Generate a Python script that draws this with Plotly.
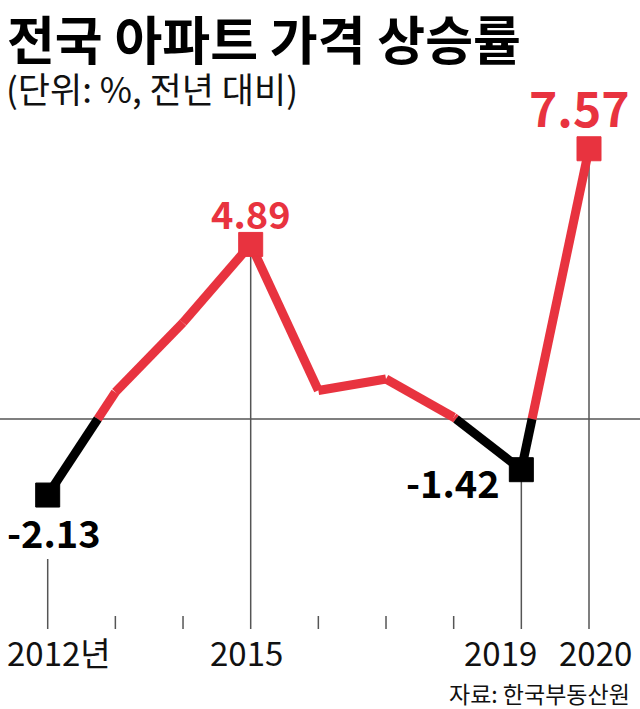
import plotly.graph_objects as go

# ---- data ----
years = [2012, 2013, 2014, 2015, 2016, 2017, 2018, 2019, 2020]
values = [-2.13, 0.75, 2.70, 4.89, 0.80, 1.12, 0.05, -1.42, 7.57]
labeled_years = [2012, 2015, 2019, 2020]
tick_labels = {2012: "2012년", 2015: "2015", 2019: "2019", 2020: "2020"}

title = "전국 아파트 가격 상승률"
subtitle = "(단위: %, 전년 대비)"
source = "자료: 한국부동산원"

RED = "#E8333F"
BLACK = "#000000"
GRAY = "#555555"
KR = "Noto Sans CJK KR"

W, H = 640, 709
ZERO_PX = 419
PX_PER_UNIT = 35.7
X0_PX, X1_PX = 47.7, 589.0
px_per_year = (X1_PX - X0_PX) / (years[-1] - years[0])
xr = [years[0] - X0_PX / px_per_year, years[-1] + (W - X1_PX) / px_per_year]
yr = [-(H - ZERO_PX) / PX_PER_UNIT, ZERO_PX / PX_PER_UNIT]


def px_to_y(py):
    return (ZERO_PX - py) / PX_PER_UNIT


# ---- split line into positive (red) / negative (black) pieces ----
red_x, red_y, blk_x, blk_y = [], [], [], []
for i in range(len(years) - 1):
    x0, y0, x1, y1 = years[i], values[i], years[i + 1], values[i + 1]
    if (y0 >= 0) == (y1 >= 0):
        tx, ty = (red_x, red_y) if y0 >= 0 else (blk_x, blk_y)
        tx += [x0, x1, None]
        ty += [y0, y1, None]
    else:
        xc = x0 + (x1 - x0) * (0 - y0) / (y1 - y0)
        a = (red_x, red_y) if y0 >= 0 else (blk_x, blk_y)
        b = (red_x, red_y) if y1 >= 0 else (blk_x, blk_y)
        a[0].extend([x0, xc, None]); a[1].extend([y0, 0, None])
        b[0].extend([xc, x1, None]); b[1].extend([0, y1, None])

fig = go.Figure()
fig.add_trace(go.Scatter(x=red_x, y=red_y, mode="lines",
                         line=dict(color=RED, width=9), hoverinfo="skip"))
fig.add_trace(go.Scatter(x=blk_x, y=blk_y, mode="lines",
                         line=dict(color=BLACK, width=9), hoverinfo="skip"))

mx = [y for y in labeled_years]
my = [values[years.index(y)] for y in labeled_years]
mc = [RED if v >= 0 else BLACK for v in my]
fig.add_trace(go.Scatter(x=mx, y=my, mode="markers",
                         marker=dict(symbol="square", size=24, color=mc,
                                     line=dict(color=mc, width=1)),
                         hoverinfo="skip"))

# ---- shapes: zero line, vertical guides, ticks ----
shapes = [dict(type="line", xref="paper", yref="y", x0=0, x1=1, y0=0, y1=0,
               line=dict(color=GRAY, width=1.5), layer="below")]
bottom = px_to_y(629)
short_top = px_to_y(616)
for y, v in zip(years, values):
    if y in labeled_years:
        top = v if y != 2012 else px_to_y(559)
        shapes.append(dict(type="line", x0=y, x1=y, y0=bottom, y1=top,
                           line=dict(color=GRAY, width=1.5), layer="below"))
    else:
        shapes.append(dict(type="line", x0=y, x1=y, y0=bottom, y1=short_top,
                           line=dict(color=GRAY, width=1.5), layer="below"))

# ---- annotations ----
ann = []
label_shift = {2012: (6, -36, 38), 2015: (0, 32, 38), 2019: (-68, -12, 38), 2020: (-10, 43, 48)}
for y in labeled_years:
    v = values[years.index(y)]
    dx, dy, fs = label_shift[y]
    ann.append(dict(x=y, y=v, xref="x", yref="y", text=f"{v:.2f}", showarrow=False,
                    xshift=dx, yshift=dy, xanchor="center", yanchor="middle",
                    font=dict(family=KR, size=fs, color=RED if v >= 0 else BLACK,
                              weight="bold")))

year_shift = {2012: 11, 2015: -4, 2019: -21, 2020: 6}
for y in labeled_years:
    ann.append(dict(x=y, y=1 - 652 / H, xref="x", yref="paper", text=tick_labels[y],
                    showarrow=False, xshift=year_shift[y], xanchor="center", yanchor="middle",
                    font=dict(family=KR, size=33, color="#111111")))

ann.append(dict(x=5 / W, y=1 - 37 / H, xref="paper", yref="paper", text=f"<b>{title}</b>",
                showarrow=False, xanchor="left", yanchor="middle",
                font=dict(family=KR, size=52, color="#000000")))
ann.append(dict(x=4 / W, y=1 - 87 / H, xref="paper", yref="paper", text=subtitle,
                showarrow=False, xanchor="left", yanchor="middle",
                font=dict(family=KR, size=35, color="#111111")))
ann.append(dict(x=632 / W, y=1 - 693 / H, xref="paper", yref="paper", text=source,
                showarrow=False, xanchor="right", yanchor="middle",
                font=dict(family=KR, size=23, color="#111111")))

fig.update_layout(
    width=W, height=H, margin=dict(l=0, r=0, t=0, b=0),
    paper_bgcolor="white", plot_bgcolor="white", showlegend=False,
    xaxis=dict(range=xr, visible=False, fixedrange=True),
    yaxis=dict(range=yr, visible=False, fixedrange=True),
    shapes=shapes, annotations=ann,
)
fig.write_html("out.html", config={"displayModeBar": False})
